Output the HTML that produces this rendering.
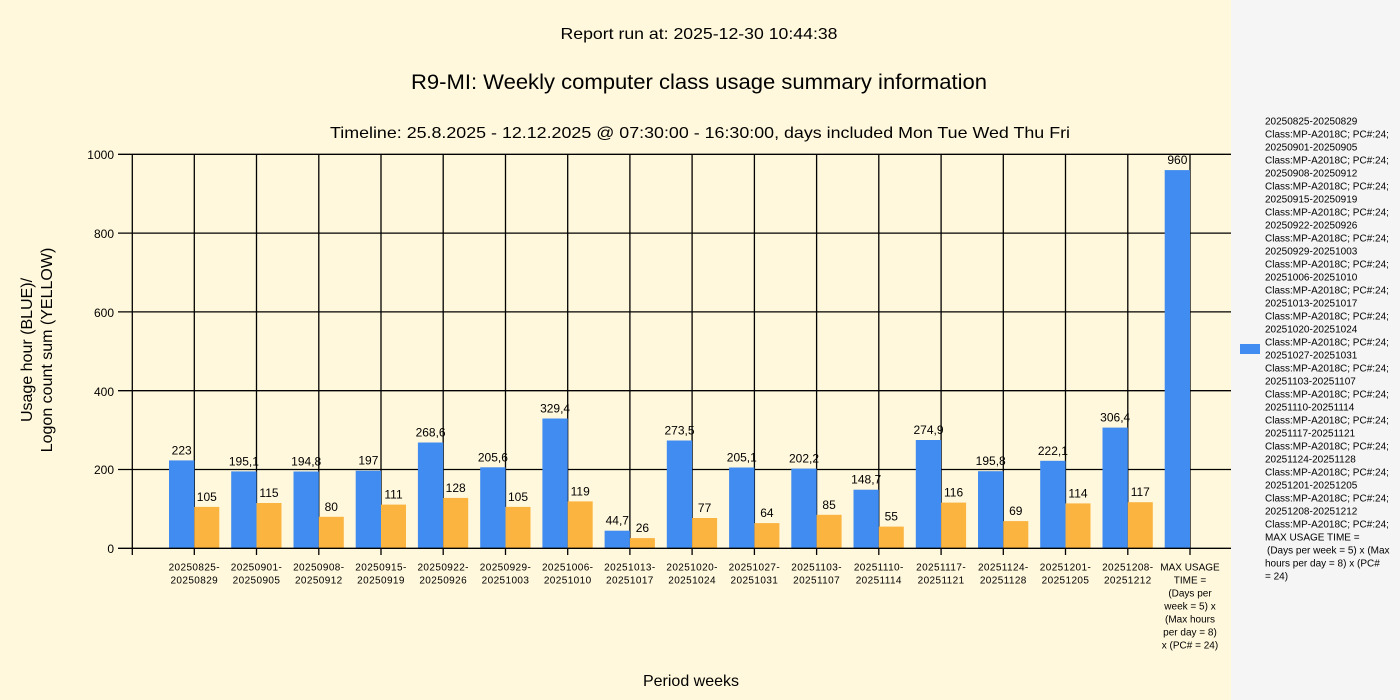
<!DOCTYPE html>
<html><head><meta charset="utf-8"><style>
html,body{margin:0;padding:0;background:#fff8dc;}
svg{display:block;font-family:"Liberation Sans",Arial,sans-serif;}
</style></head><body>
<svg width="1400" height="700" viewBox="0 0 1400 700">
<rect x="0" y="0" width="1400" height="700" fill="#fff8dc"/>
<rect x="1231" y="0" width="169" height="700" fill="#f5f5f5"/>
<text x="699" y="39" font-size="16" text-anchor="middle" textLength="277" lengthAdjust="spacingAndGlyphs">Report run at: 2025-12-30 10:44:38</text>
<text x="699" y="89" font-size="21" text-anchor="middle" textLength="576" lengthAdjust="spacingAndGlyphs">R9-MI: Weekly computer class usage summary information</text>
<text x="700" y="138" font-size="16" text-anchor="middle" textLength="740" lengthAdjust="spacingAndGlyphs">Timeline:  25.8.2025  - 12.12.2025  @  07:30:00 -  16:30:00, days included Mon Tue Wed Thu Fri</text>
<g transform="translate(38,350) rotate(-90)" font-size="16" text-anchor="middle">
<text x="0" y="-6">Usage hour (BLUE)/</text>
<text x="0" y="14">Logon count sum (YELLOW)</text>
</g>
<text x="691" y="686" font-size="16" text-anchor="middle">Period weeks</text>
<g stroke="#000" stroke-width="1.3">
<line x1="118" y1="154.3" x2="1231" y2="154.3"/>
<line x1="118" y1="233.1" x2="1231" y2="233.1"/>
<line x1="118" y1="311.9" x2="1231" y2="311.9"/>
<line x1="118" y1="390.7" x2="1231" y2="390.7"/>
<line x1="118" y1="469.5" x2="1231" y2="469.5"/>
<line x1="132.3" y1="154.3" x2="132.3" y2="555"/>
<line x1="194.3" y1="154.3" x2="194.3" y2="555"/>
<line x1="256.5" y1="154.3" x2="256.5" y2="555"/>
<line x1="318.8" y1="154.3" x2="318.8" y2="555"/>
<line x1="381" y1="154.3" x2="381" y2="555"/>
<line x1="443.2" y1="154.3" x2="443.2" y2="555"/>
<line x1="505.5" y1="154.3" x2="505.5" y2="555"/>
<line x1="567.7" y1="154.3" x2="567.7" y2="555"/>
<line x1="629.9" y1="154.3" x2="629.9" y2="555"/>
<line x1="692.1" y1="154.3" x2="692.1" y2="555"/>
<line x1="754.4" y1="154.3" x2="754.4" y2="555"/>
<line x1="816.6" y1="154.3" x2="816.6" y2="555"/>
<line x1="878.8" y1="154.3" x2="878.8" y2="555"/>
<line x1="941.1" y1="154.3" x2="941.1" y2="555"/>
<line x1="1003.3" y1="154.3" x2="1003.3" y2="555"/>
<line x1="1065.5" y1="154.3" x2="1065.5" y2="555"/>
<line x1="1127.8" y1="154.3" x2="1127.8" y2="555"/>
<line x1="1190" y1="154.3" x2="1190" y2="555"/>
</g>
<g font-size="12" text-anchor="end">
<text x="114" y="159">1000</text>
<text x="114" y="238">800</text>
<text x="114" y="317">600</text>
<text x="114" y="396">400</text>
<text x="114" y="474">200</text>
<text x="114" y="553">0</text>
</g>
<g fill="#418cf0">
<rect x="169" y="460.4" width="25.3" height="87.9"/>
<rect x="231.2" y="471.4" width="25.3" height="76.9"/>
<rect x="293.5" y="471.5" width="25.3" height="76.8"/>
<rect x="355.7" y="470.7" width="25.3" height="77.6"/>
<rect x="417.9" y="442.5" width="25.3" height="105.8"/>
<rect x="480.2" y="467.3" width="25.3" height="81"/>
<rect x="542.4" y="418.5" width="25.3" height="129.8"/>
<rect x="604.6" y="530.7" width="25.3" height="17.6"/>
<rect x="666.8" y="440.5" width="25.3" height="107.8"/>
<rect x="729.1" y="467.5" width="25.3" height="80.8"/>
<rect x="791.3" y="468.6" width="25.3" height="79.7"/>
<rect x="853.5" y="489.7" width="25.3" height="58.6"/>
<rect x="915.8" y="440" width="25.3" height="108.3"/>
<rect x="978" y="471.2" width="25.3" height="77.1"/>
<rect x="1040.2" y="460.8" width="25.3" height="87.5"/>
<rect x="1102.5" y="427.6" width="25.3" height="120.7"/>
<rect x="1164.7" y="170.1" width="25.3" height="378.2"/>
</g>
<g fill="#fcb441">
<rect x="194.3" y="506.9" width="25" height="41.4"/>
<rect x="256.5" y="503" width="25" height="45.3"/>
<rect x="318.8" y="516.8" width="25" height="31.5"/>
<rect x="381" y="504.6" width="25" height="43.7"/>
<rect x="443.2" y="497.9" width="25" height="50.4"/>
<rect x="505.5" y="506.9" width="25" height="41.4"/>
<rect x="567.7" y="501.4" width="25" height="46.9"/>
<rect x="629.9" y="538.1" width="25" height="10.2"/>
<rect x="692.1" y="518" width="25" height="30.3"/>
<rect x="754.4" y="523.1" width="25" height="25.2"/>
<rect x="816.6" y="514.8" width="25" height="33.5"/>
<rect x="878.8" y="526.6" width="25" height="21.7"/>
<rect x="941.1" y="502.6" width="25" height="45.7"/>
<rect x="1003.3" y="521.1" width="25" height="27.2"/>
<rect x="1065.5" y="503.4" width="25" height="44.9"/>
<rect x="1127.8" y="502.2" width="25" height="46.1"/>
</g>
<line x1="118" y1="548.3" x2="1231" y2="548.3" stroke="#000" stroke-width="1.3"/>
<g font-size="12" text-anchor="middle">
<text x="181.7" y="454.4">223</text>
<text x="243.9" y="465.4">195,1</text>
<text x="306.2" y="465.5">194,8</text>
<text x="368.4" y="464.7">197</text>
<text x="430.6" y="436.5">268,6</text>
<text x="492.9" y="461.3">205,6</text>
<text x="555.1" y="412.5">329,4</text>
<text x="617.3" y="524.7">44,7</text>
<text x="679.5" y="434.5">273,5</text>
<text x="741.8" y="461.5">205,1</text>
<text x="804" y="462.6">202,2</text>
<text x="866.2" y="483.7">148,7</text>
<text x="928.5" y="434">274,9</text>
<text x="990.7" y="465.2">195,8</text>
<text x="1052.9" y="454.8">222,1</text>
<text x="1115.2" y="421.6">306,4</text>
<text x="1177.4" y="164.1">960</text>
<text x="206.8" y="500.9">105</text>
<text x="269" y="497">115</text>
<text x="331.3" y="510.8">80</text>
<text x="393.5" y="498.6">111</text>
<text x="455.7" y="491.9">128</text>
<text x="518" y="500.9">105</text>
<text x="580.2" y="495.4">119</text>
<text x="642.4" y="532.1">26</text>
<text x="704.6" y="512">77</text>
<text x="766.9" y="517.1">64</text>
<text x="829.1" y="508.8">85</text>
<text x="891.3" y="520.6">55</text>
<text x="953.6" y="496.6">116</text>
<text x="1015.8" y="515.1">69</text>
<text x="1078" y="497.4">114</text>
<text x="1140.3" y="496.2">117</text>
</g>
<g font-size="10" text-anchor="middle" letter-spacing="0.4">
<text x="194.3" y="570.5">20250825-</text><text x="194.3" y="583.5">20250829</text>
<text x="256.5" y="570.5">20250901-</text><text x="256.5" y="583.5">20250905</text>
<text x="318.8" y="570.5">20250908-</text><text x="318.8" y="583.5">20250912</text>
<text x="381" y="570.5">20250915-</text><text x="381" y="583.5">20250919</text>
<text x="443.2" y="570.5">20250922-</text><text x="443.2" y="583.5">20250926</text>
<text x="505.5" y="570.5">20250929-</text><text x="505.5" y="583.5">20251003</text>
<text x="567.7" y="570.5">20251006-</text><text x="567.7" y="583.5">20251010</text>
<text x="629.9" y="570.5">20251013-</text><text x="629.9" y="583.5">20251017</text>
<text x="692.1" y="570.5">20251020-</text><text x="692.1" y="583.5">20251024</text>
<text x="754.4" y="570.5">20251027-</text><text x="754.4" y="583.5">20251031</text>
<text x="816.6" y="570.5">20251103-</text><text x="816.6" y="583.5">20251107</text>
<text x="878.8" y="570.5">20251110-</text><text x="878.8" y="583.5">20251114</text>
<text x="941.1" y="570.5">20251117-</text><text x="941.1" y="583.5">20251121</text>
<text x="1003.3" y="570.5">20251124-</text><text x="1003.3" y="583.5">20251128</text>
<text x="1065.5" y="570.5">20251201-</text><text x="1065.5" y="583.5">20251205</text>
<text x="1127.8" y="570.5">20251208-</text><text x="1127.8" y="583.5">20251212</text>
</g>
<g font-size="10" text-anchor="middle">
<text x="1190" y="570.5">MAX USAGE</text>
<text x="1190" y="583.5">TIME =</text>
<text x="1190" y="596.5">(Days per</text>
<text x="1190" y="609.5">week = 5) x</text>
<text x="1190" y="622.5">(Max hours</text>
<text x="1190" y="635.5">per day = 8)</text>
<text x="1190" y="648.5">x (PC# = 24)</text>
</g>
<rect x="1240" y="344" width="20" height="10" fill="#418cf0"/>
<g font-size="10">
<text x="1265" y="124.5">20250825-20250829</text>
<text x="1265" y="137.5">Class:MP-A2018C; PC#:24;</text>
<text x="1265" y="150.5">20250901-20250905</text>
<text x="1265" y="163.5">Class:MP-A2018C; PC#:24;</text>
<text x="1265" y="176.5">20250908-20250912</text>
<text x="1265" y="189.5">Class:MP-A2018C; PC#:24;</text>
<text x="1265" y="202.5">20250915-20250919</text>
<text x="1265" y="215.5">Class:MP-A2018C; PC#:24;</text>
<text x="1265" y="228.5">20250922-20250926</text>
<text x="1265" y="241.5">Class:MP-A2018C; PC#:24;</text>
<text x="1265" y="254.5">20250929-20251003</text>
<text x="1265" y="267.5">Class:MP-A2018C; PC#:24;</text>
<text x="1265" y="280.5">20251006-20251010</text>
<text x="1265" y="293.5">Class:MP-A2018C; PC#:24;</text>
<text x="1265" y="306.5">20251013-20251017</text>
<text x="1265" y="319.5">Class:MP-A2018C; PC#:24;</text>
<text x="1265" y="332.5">20251020-20251024</text>
<text x="1265" y="345.5">Class:MP-A2018C; PC#:24;</text>
<text x="1265" y="358.5">20251027-20251031</text>
<text x="1265" y="371.5">Class:MP-A2018C; PC#:24;</text>
<text x="1265" y="384.5">20251103-20251107</text>
<text x="1265" y="397.5">Class:MP-A2018C; PC#:24;</text>
<text x="1265" y="410.5">20251110-20251114</text>
<text x="1265" y="423.5">Class:MP-A2018C; PC#:24;</text>
<text x="1265" y="436.5">20251117-20251121</text>
<text x="1265" y="449.5">Class:MP-A2018C; PC#:24;</text>
<text x="1265" y="462.5">20251124-20251128</text>
<text x="1265" y="475.5">Class:MP-A2018C; PC#:24;</text>
<text x="1265" y="488.5">20251201-20251205</text>
<text x="1265" y="501.5">Class:MP-A2018C; PC#:24;</text>
<text x="1265" y="514.5">20251208-20251212</text>
<text x="1265" y="527.5">Class:MP-A2018C; PC#:24;</text>
<text x="1265" y="540.5">MAX USAGE TIME =</text>
<text x="1267" y="553.5">(Days per week = 5) x (Max</text>
<text x="1265" y="566.5">hours per day = 8) x (PC#</text>
<text x="1265" y="579.5">= 24)</text>
</g>
</svg>
</body></html>
